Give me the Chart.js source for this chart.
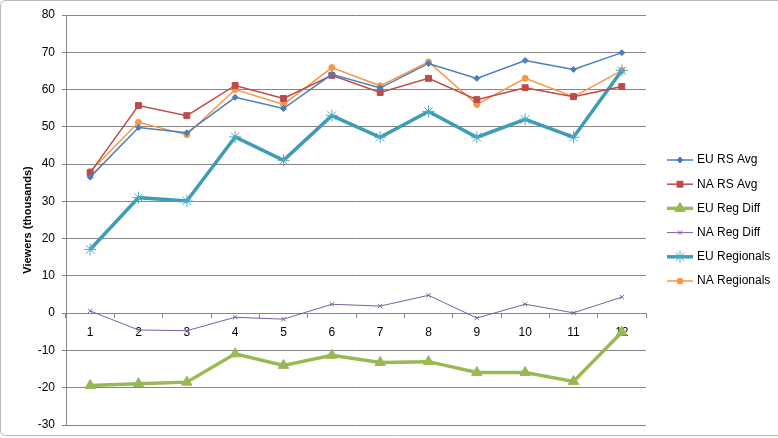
<!DOCTYPE html>
<html>
<head>
<meta charset="utf-8">
<script src="https://cdn.jsdelivr.net/npm/chart.js@4/dist/chart.umd.min.js"></script>
<style>
  html, body { margin: 0; padding: 0; background: #fff; }
  canvas { display: block; }
</style>
</head>
<body>
<canvas id="chart" width="778" height="438"></canvas>
<script>
// values
const rounds = ["1", "2", "3", "4", "5", "6", "7", "8", "9", "10", "11", "12"];
const euRsAvg = [36.5, 49.8, 48.4, 57.9, 54.9, 64.1, 60.4, 67.0, 63.0, 67.8, 65.4, 69.9];
const naRsAvg = [37.7, 55.7, 53.0, 61.1, 57.6, 63.8, 59.2, 63.0, 57.3, 60.5, 58.1, 60.8];
const euRegDiff = [-19.4, -18.9, -18.5, -10.9, -14.0, -11.3, -13.2, -13.0, -15.9, -15.9, -18.3, -5.1];
const naRegDiff = [0.6, -4.5, -4.7, -1.1, -1.6, 2.4, 1.9, 4.8, -1.3, 2.4, 0.1, 4.3];
const euRegionals = [17.1, 31.0, 30.1, 47.3, 41.0, 53.0, 47.2, 54.1, 47.2, 52.0, 47.2, 65.1];
const naRegionals = [38.0, 51.2, 47.9, 60.0, 56.0, 65.9, 61.0, 67.4, 56.0, 63.0, 58.1, 65.1];

const FONT = "'Liberation Sans', Arial, sans-serif";
const GRID = "#868686";

function series(label, data, color, width, style, radius, pointColor) {
  return {
    label: label,
    data: data,
    borderColor: color,
    backgroundColor: pointColor || color,
    borderWidth: width,
    pointStyle: style,
    pointRadius: radius,
    pointHoverRadius: radius,
    pointBackgroundColor: pointColor || color,
    pointBorderColor: pointColor || color,
    pointBorderWidth: 1,
    tension: 0
  };
}

// Excel-style legend: line sample with marker, on the right
const sideLegend = {
  id: "sideLegend",
  afterDraw(chart) {
    const ctx = chart.ctx;
    const x0 = 667, x1 = 693, top = 160, step = 24.2;
    ctx.save();
    chart.data.datasets.forEach((ds, i) => {
      const y = top + i * step;
      ctx.strokeStyle = ds.borderColor;
      ctx.lineWidth = ds.borderWidth;
      ctx.beginPath();
      ctx.moveTo(x0, y);
      ctx.lineTo(x1, y);
      ctx.stroke();
      ctx.fillStyle = ds.pointBackgroundColor;
      ctx.strokeStyle = ds.pointBorderColor;
      ctx.lineWidth = 1;
      Chart.helpers.drawPoint(ctx, { pointStyle: ds.pointStyle, radius: ds.pointRadius, rotation: 0, borderWidth: 1 }, (x0 + x1) / 2, y);
      ctx.fillStyle = "#000";
      ctx.font = "12px " + FONT;
      ctx.textBaseline = "middle";
      ctx.textAlign = "left";
      ctx.fillText(ds.label, 697, y);
    });
    ctx.restore();
  }
};

// light chart frame
const frame = {
  id: "frame",
  beforeDraw(chart) {
    const ctx = chart.ctx;
    ctx.save();
    ctx.fillStyle = "#fff";
    ctx.fillRect(0, 0, chart.width, chart.height);
    ctx.strokeStyle = "#b9b9b9";
    ctx.lineWidth = 1;
    ctx.beginPath();
    ctx.roundRect(0.5, 0.5, chart.width + 6, chart.height - 3, 5);
    ctx.stroke();
    ctx.restore();
  }
};

new Chart(document.getElementById("chart"), {
  type: "line",
  data: {
    labels: rounds,
    datasets: [
      series("EU RS Avg", euRsAvg, "#4A7EBB", 1.5, "rectRot", 3),
      series("NA RS Avg", naRsAvg, "#BE4B48", 1.5, "rect", 4.2),
      series("EU Reg Diff", euRegDiff, "#98B954", 3.5, "triangle", 6),
      series("NA Reg Diff", naRegDiff, "#7D5FA0", 1, "crossRot", 3),
      series("EU Regionals", euRegionals, "#3E9CB5", 3.5, "star", 6, "#4BACC6"),
      series("NA Regionals", naRegionals, "#F79646", 1.5, "circle", 3)
    ]
  },
  options: {
    responsive: false,
    animation: false,
    layout: { padding: { left: 0, right: 132, top: 15, bottom: 13 } },
    plugins: {
      legend: { display: false },
      tooltip: { enabled: false }
    },
    scales: {
      x: {
        position: { y: 0 },
        offset: true,
        afterFit(scale) {
          scale.paddingTop = 0;
          scale.paddingBottom = 0;
        },
        grid: {
          offset: true,
          drawOnChartArea: false,
          drawTicks: true,
          tickLength: 4,
          color: GRID
        },
        border: { color: GRID, width: 1 },
        ticks: {
          color: "#000",
          font: { family: FONT, size: 12 },
          padding: 8,
          maxRotation: 0,
          autoSkip: false
        }
      },
      y: {
        min: -30,
        max: 80,
        afterFit(scale) {
          scale.width = 66;
          scale.paddingBottom = 0;
        },
        grid: { color: GRID, tickLength: 4, lineWidth: 1 },
        border: { color: GRID, width: 1 },
        ticks: {
          stepSize: 10,
          color: "#000",
          font: { family: FONT, size: 12 },
          padding: 7
        },
        title: {
          display: true,
          text: "Viewers (thousands)",
          color: "#000",
          font: { family: FONT, size: 11, weight: "bold" },
          padding: { top: 21, bottom: 0 }
        }
      }
    }
  },
  plugins: [frame, sideLegend]
});
</script>
</body>
</html>
